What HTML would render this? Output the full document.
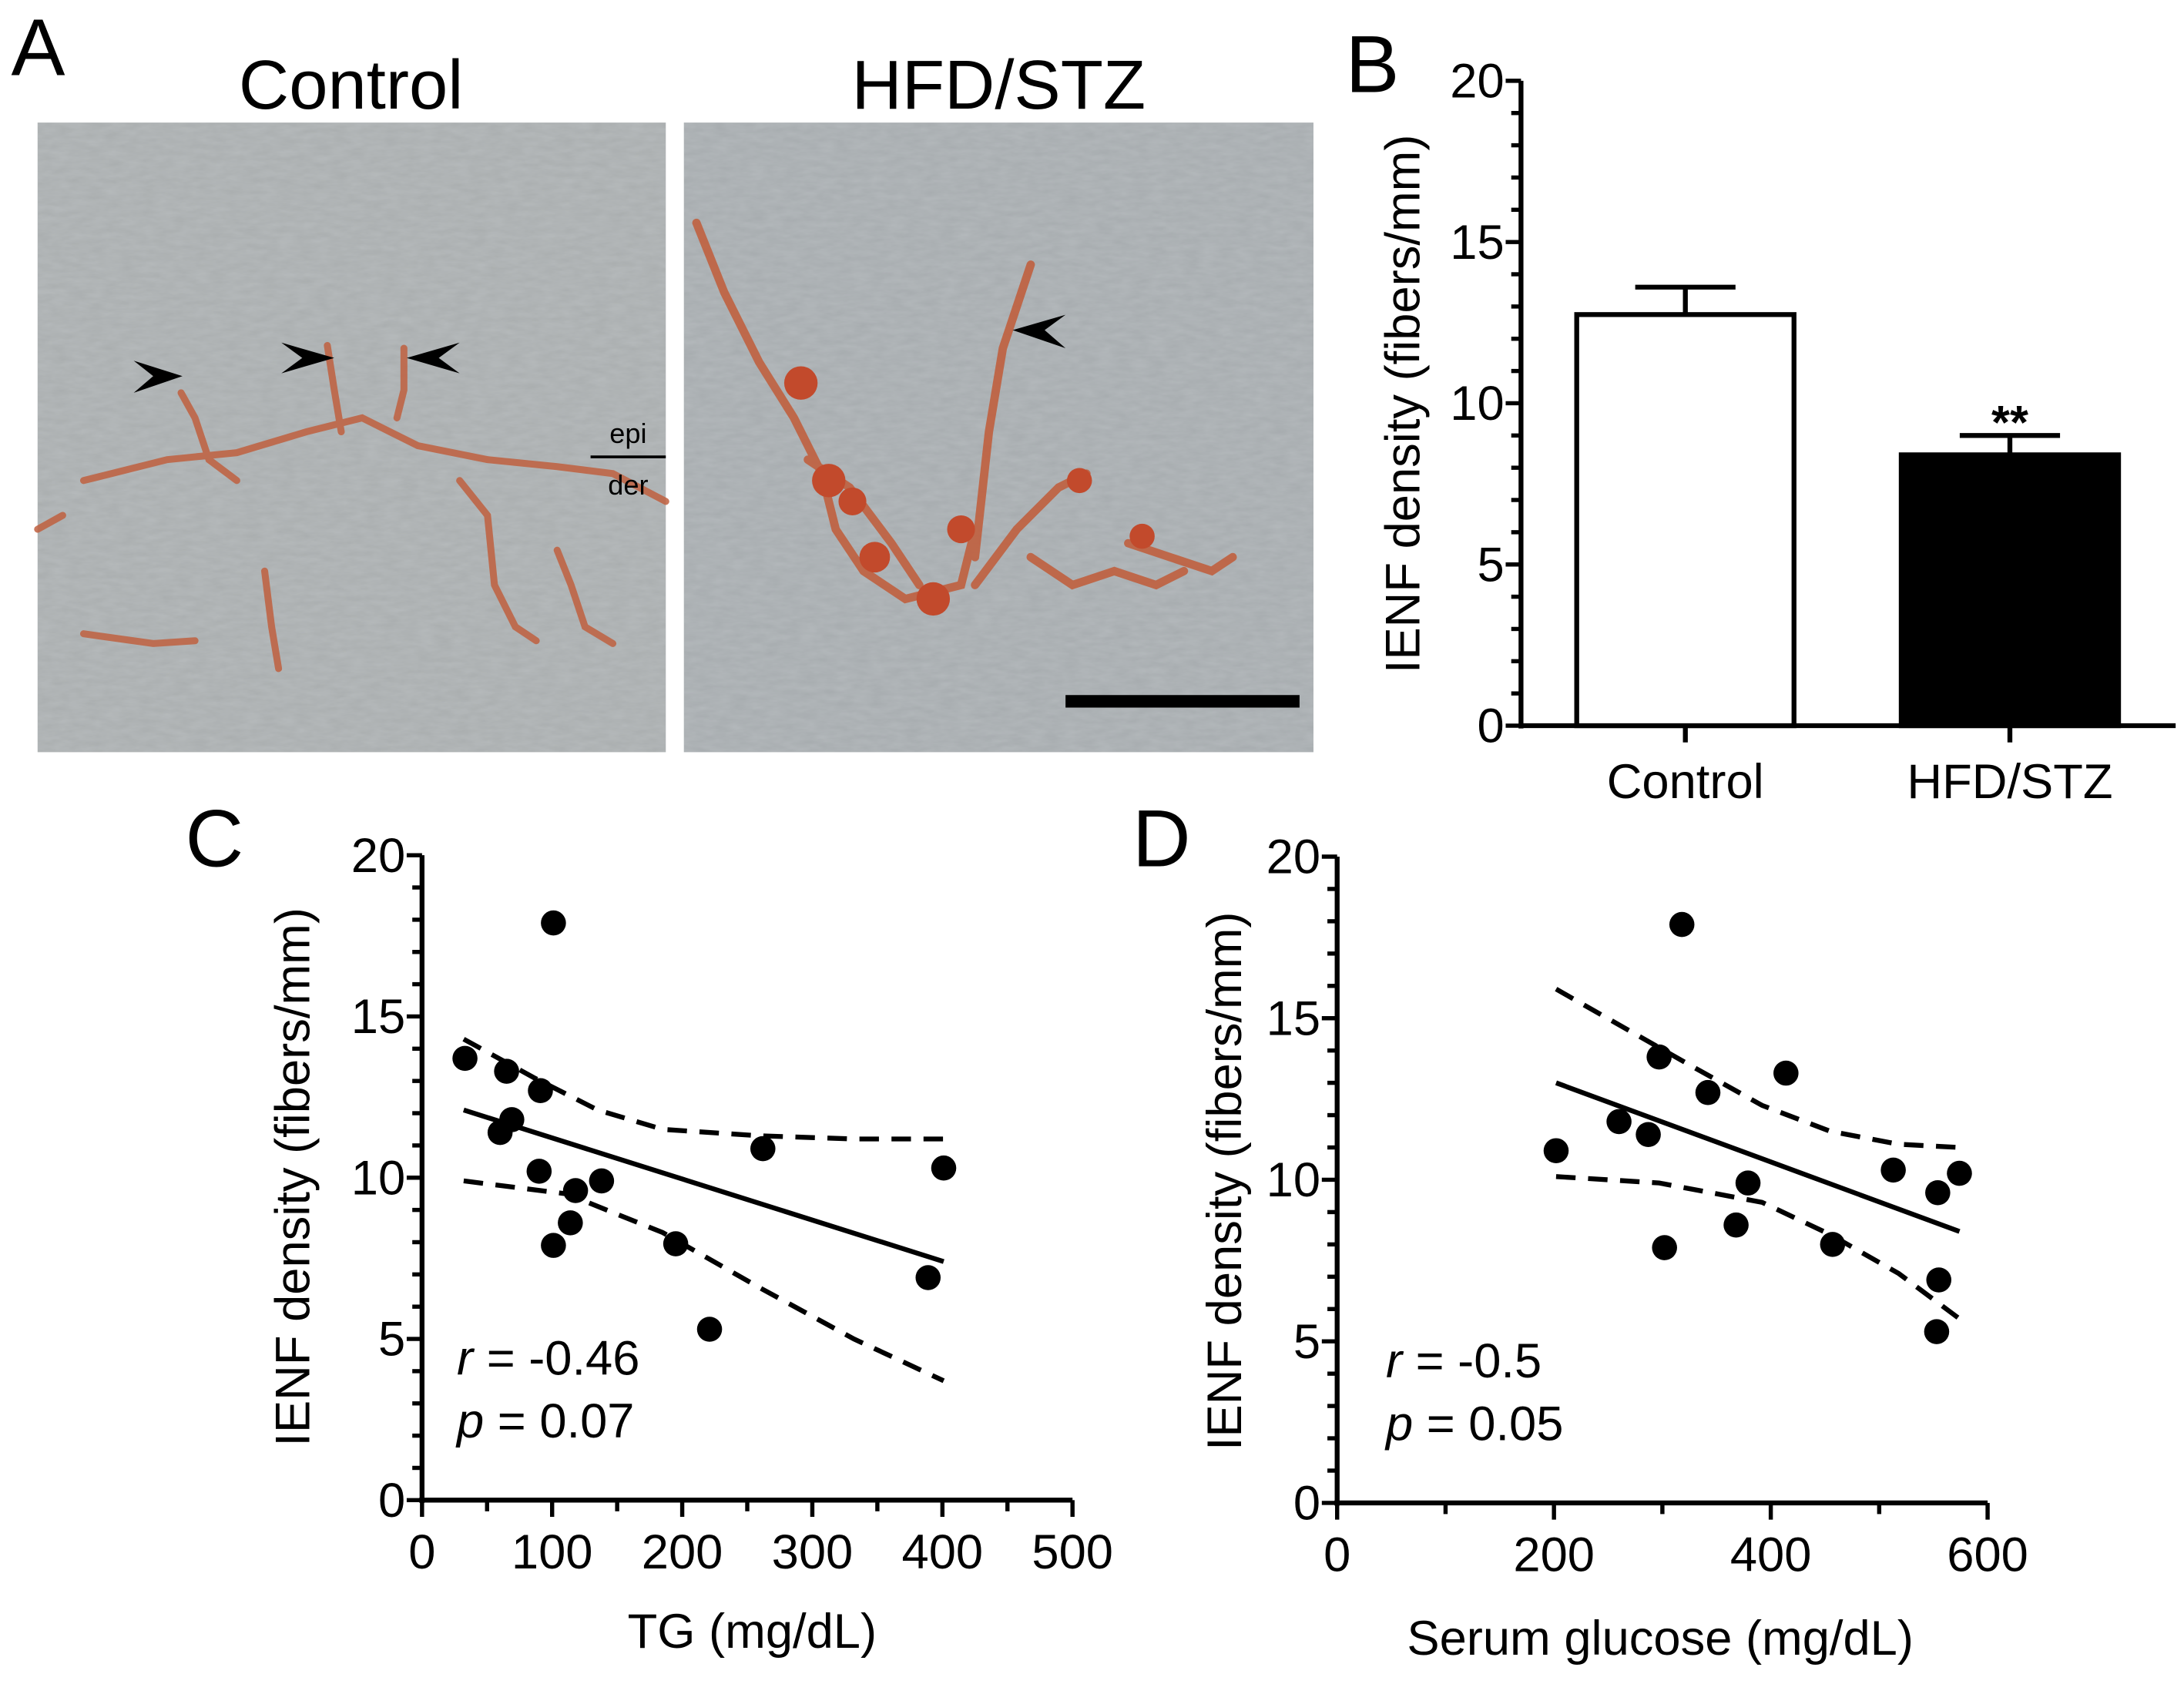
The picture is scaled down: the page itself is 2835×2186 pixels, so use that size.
<!DOCTYPE html>
<html><head><meta charset="utf-8"><style>
html,body{margin:0;padding:0;background:#fff;}
svg{display:block;}
text{font-family:"Liberation Sans",Arial,sans-serif;fill:#000;}
</style></head><body>
<svg id="fig" xmlns="http://www.w3.org/2000/svg" width="2835" height="2186" viewBox="0 0 1568 1209" preserveAspectRatio="none">
<defs>
<filter id="noise" x="0" y="0" width="100%" height="100%">
<feTurbulence type="fractalNoise" baseFrequency="0.08 0.25" numOctaves="3" seed="4"/>
<feColorMatrix type="matrix" values="0 0 0 0 0.62  0 0 0 0 0.65  0 0 0 0 0.67  0 0 0 0.35 0"/>
</filter>
</defs>
<g>
<text x="8" y="54" font-size="58">A</text>
<text x="252" y="78" font-size="50" text-anchor="middle">Control</text>
<text x="717" y="78" font-size="50" text-anchor="middle">HFD/STZ</text>
<g>
<rect x="27" y="88" width="451" height="452" fill="#a9adae"/>
<rect x="27" y="88" width="451" height="452" filter="url(#noise)"/>
<g fill="none" stroke="#c0603f" stroke-width="5" stroke-linecap="round" opacity="0.85">
<path d="M60,345 L120,330 L170,325 L220,310 L260,300 L300,320 L350,330 L400,335 L440,340 L478,360"/>
<path d="M130,282 L140,300 L150,330 L170,345"/>
<path d="M235,248 L240,280 L245,310"/>
<path d="M290,250 L290,280 L285,300"/>
<path d="M330,345 L350,370 L355,420 L370,450 L385,460"/>
<path d="M400,395 L410,420 L420,450 L440,462"/>
<path d="M190,410 L195,450 L200,480"/>
<path d="M60,455 L110,462 L140,460"/>
<path d="M27,380 L45,370"/>
</g>
<polygon points="131,270 96,259 110,270 96,282" fill="#000"/>
<polygon points="240,257 202,246 217,257 202,268" fill="#000"/>
<polygon points="292,257 330,246 315,257 330,268" fill="#000"/>
<line x1="424" y1="328" x2="478" y2="328" stroke="#000" stroke-width="2"/>
<text x="451" y="318" font-size="20" text-anchor="middle">epi</text>
<text x="451" y="355" font-size="20" text-anchor="middle">der</text>
</g>
<g>
<rect x="491" y="88" width="452" height="452" fill="#a6abae"/>
<rect x="491" y="88" width="452" height="452" filter="url(#noise)"/>
<g fill="none" stroke="#c0603f" stroke-width="6" stroke-linecap="round" opacity="0.9">
<path d="M500,160 L520,210 L545,260 L570,300 L590,340 L600,380 L620,410 L650,430 L690,420 L700,380"/>
<path d="M580,330 L610,350 L640,390 L660,420"/>
<path d="M700,400 L710,310 L720,250 L740,190"/>
<path d="M700,420 L730,380 L760,350 L780,340"/>
<path d="M740,400 L770,420 L800,410 L830,420 L850,410"/>
<path d="M810,390 L840,400 L870,410 L885,400"/>
</g>
<g fill="#c24a2c">
<circle cx="575" cy="275" r="12"/><circle cx="595" cy="345" r="12"/><circle cx="612" cy="360" r="10"/>
<circle cx="628" cy="400" r="11"/><circle cx="690" cy="380" r="10"/><circle cx="670" cy="430" r="12"/>
<circle cx="775" cy="345" r="9"/><circle cx="820" cy="385" r="9"/>
</g>
<polygon points="727,237 765,226 750,237 765,250" fill="#000"/>
<rect x="765" y="499" width="168" height="9" fill="#000"/>
</g>
</g>

<g id="panelB">
<text x="966" y="66" font-size="58">B</text>
</g>
<g id="panelC">
<text x="133" y="622" font-size="58">C</text>
</g>
<g id="panelD">
<text x="813" y="622" font-size="58">D</text>
</g>
</svg>
<script>
// ---- Panel B data ----
const barCategories = ["Control", "HFD/STZ"];
const barMeans = [12.75, 8.4];
const barSEM = [0.85, 0.6];
const barYTicks = [0, 5, 10, 15, 20];

// ---- Panel C data ----
const tgX = [33, 65, 91, 60, 69, 90, 101, 118, 138, 114, 101, 195, 221, 262, 401, 389];
const tgY = [13.7, 13.3, 12.7, 11.4, 11.8, 10.2, 17.9, 9.6, 9.9, 8.6, 7.9, 7.95, 5.3, 10.9, 10.3, 6.9];
const tgFitX = [32, 401];
const tgFitY = [12.1, 7.4];
const tgBandX = [32, 86, 135, 185, 259, 332, 401];
const tgUpper = [14.3, 13.1, 12.1, 11.5, 11.3, 11.2, 11.2];
const tgLowerX = [32, 111, 185, 259, 332, 401];
const tgLower = [9.9, 9.5, 8.3, 6.6, 5.0, 3.7];
const tgXTicks = [0, 100, 200, 300, 400, 500];
const tgYTicks = [0, 5, 10, 15, 20];

// ---- Panel D data ----
const glX = [202, 260, 287, 297, 302, 318, 342, 368, 379, 414, 457, 513, 554, 555, 553, 574];
const glY = [10.9, 11.8, 11.4, 13.8, 7.9, 17.9, 12.7, 8.6, 9.9, 13.3, 8.0, 10.3, 9.6, 6.9, 5.3, 10.2];
const glFitX = [202, 574];
const glFitY = [13.0, 8.4];
const glUpperX = [202, 265, 328, 392, 455, 518, 574];
const glUpper = [15.9, 14.7, 13.5, 12.3, 11.5, 11.1, 11.0];
const glLowerX = [202, 297, 392, 455, 518, 574];
const glLower = [10.1, 9.9, 9.3, 8.3, 7.1, 5.7];
const glXTicks = [0, 200, 400, 600];
const glYTicks = [0, 5, 10, 15, 20];

const NS = "http://www.w3.org/2000/svg";
function mk(parent, tag, attrs, txt) {
  const e = document.createElementNS(NS, tag);
  for (const k in attrs) e.setAttribute(k, attrs[k]);
  if (txt !== undefined) e.textContent = txt;
  parent.appendChild(e);
  return e;
}
function linScale(d0, d1, r0, r1) { return v => r0 + (v - d0) * (r1 - r0) / (d1 - d0); }

function drawYAxis(g, x0, y, ticks, minorStep, yTop, yBot, labelX, labelY, labelText) {
  const ax = mk(g, "line", {x1: x0, y1: y(ticks[0]) + 2, x2: x0, y2: y(ticks[ticks.length - 1]), stroke: "#000", "stroke-width": 3.5});
  
  
  const lo = ticks[0], hi = ticks[ticks.length - 1];
  for (let v = lo; v <= hi + 1e-9; v += minorStep) {
    const major = ticks.some(t => Math.abs(t - v) < 1e-9);
    const t = mk(g, "line", {x1: x0 - (major ? 11 : 7), y1: y(v), x2: x0, y2: y(v), stroke: "#000", "stroke-width": 3});
    
    
  }
  ticks.forEach(v => {
    const tl = mk(g, "text", {x: x0 - 12, y: y(v) + 12, "font-size": 35, "text-anchor": "end"}, String(v));
    
    
  });
  const lab = mk(g, "text", {x: 0, y: 0, "font-size": 35, "text-anchor": "middle", transform: `translate(${labelX},${labelY}) rotate(-90)`}, labelText);
  
  
}

// ---- Panel B ----
(function () {
  const g = document.getElementById("panelB");
  const axX = 1092, right = 1562;
  const y = linScale(0, 20, 521, 58);
  const centers = [1210, 1443];
  const halfW = 78;
  drawYAxis(g, axX, y, barYTicks, 1, 58, 521, 1019, 290, "IENF density (fibers/mm)");
  const xa = mk(g, "line", {x1: axX, y1: y(0), x2: right, y2: y(0), stroke: "#000", "stroke-width": 3.5});
  
  
  barCategories.forEach((c, i) => {
    const cx = centers[i];
    const eb = mk(g, "line", {x1: cx, y1: y(barMeans[i]), x2: cx, y2: y(barMeans[i] + barSEM[i]), stroke: "#000", "stroke-width": 3.5});
    
    
    const cap = mk(g, "line", {x1: cx - 36, y1: y(barMeans[i] + barSEM[i]), x2: cx + 36, y2: y(barMeans[i] + barSEM[i]), stroke: "#000", "stroke-width": 3.5});
    
    
    const r = mk(g, "rect", {x: cx - halfW, y: y(barMeans[i]), width: halfW * 2, height: y(0) - y(barMeans[i]), fill: i ? "#000" : "#fff", stroke: "#000", "stroke-width": 3.5});
    
    
    const tk = mk(g, "line", {x1: cx, y1: y(0), x2: cx, y2: y(0) + 12, stroke: "#000", "stroke-width": 3.5});
    
    
    const tl = mk(g, "text", {x: cx, y: 573, "font-size": 35, "text-anchor": "middle"}, c);
    
    
  });
  const sig = mk(g, "text", {x: centers[1], y: y(barMeans[1] + barSEM[1]) + 2, "font-size": 34, "font-weight": "bold", "text-anchor": "middle"}, "**");
  
  
})();

function scatterPanel(id, cfg) {
  const g = document.getElementById(id);
  const x = linScale(0, cfg.xTicks[cfg.xTicks.length - 1], cfg.x0, cfg.x1);
  const y = linScale(0, 20, cfg.y0, cfg.y20);
  drawYAxis(g, cfg.x0, y, cfg.yTicks, 1, cfg.y20, cfg.y0, cfg.ylabX, cfg.ylabY, "IENF density (fibers/mm)");
  const xa = mk(g, "line", {x1: cfg.x0 - 2, y1: cfg.y0, x2: cfg.x1, y2: cfg.y0, stroke: "#000", "stroke-width": 3.5});
  
  
  const xmax = cfg.xTicks[cfg.xTicks.length - 1];
  for (let v = 0; v <= xmax + 1e-9; v += cfg.xMinor) {
    const major = cfg.xTicks.includes(v);
    const t = mk(g, "line", {x1: x(v), y1: cfg.y0, x2: x(v), y2: cfg.y0 + (major ? 12 : 8), stroke: "#000", "stroke-width": 3});
    
    
  }
  cfg.xTicks.forEach(v => {
    const tl = mk(g, "text", {x: x(v), y: cfg.y0 + 49, "font-size": 35, "text-anchor": "middle"}, String(v));
    
    
  });
  const xt = mk(g, "text", {x: cfg.xlabX, y: cfg.xlabY, "font-size": 35, "text-anchor": "middle"}, cfg.xlab);
  
  
  const pathOf = (xs, ys) => xs.map((v, i) => (i ? "L" : "M") + x(v).toFixed(1) + "," + y(ys[i]).toFixed(1)).join(" ");
  const up = mk(g, "path", {d: pathOf(cfg.upX, cfg.up), fill: "none", stroke: "#000", "stroke-width": 3.5, "stroke-dasharray": "14 9"});
  
  
  const lo = mk(g, "path", {d: pathOf(cfg.loX, cfg.lo), fill: "none", stroke: "#000", "stroke-width": 3.5, "stroke-dasharray": "14 9"});
  
  
  const fit = mk(g, "path", {d: pathOf(cfg.fitX, cfg.fitY), fill: "none", stroke: "#000", "stroke-width": 3.5});
  
  
  cfg.px.forEach((v, i) => {
    const c = mk(g, "circle", {cx: x(v), cy: y(cfg.py[i]), r: 9, fill: "#000"});
    
    
  });
  const r = mk(g, "text", {x: cfg.statX, y: cfg.y0 - 90, "font-size": 35});
  
  
  mk(r, "tspan", {"font-style": "italic"}, "r");
  mk(r, "tspan", {}, " = " + cfg.r);
  const p = mk(g, "text", {x: cfg.statX, y: cfg.y0 - 45, "font-size": 35});
  
  
  mk(p, "tspan", {"font-style": "italic"}, "p");
  mk(p, "tspan", {}, " = " + cfg.p);
}

scatterPanel("panelC", {x0: 303, x1: 770, y0: 1077, y20: 614, xTicks: tgXTicks, yTicks: tgYTicks, xMinor: 50,
  px: tgX, py: tgY, fitX: tgFitX, fitY: tgFitY, upX: tgBandX, up: tgUpper, loX: tgLowerX, lo: tgLower,
  xlab: "TG (mg/dL)", xlabX: 540, xlabY: 1183, ylabX: 222, ylabY: 845, statX: 328, r: "-0.46", p: "0.07"});
scatterPanel("panelD", {x0: 960, x1: 1427, y0: 1079, y20: 615, xTicks: glXTicks, yTicks: glYTicks, xMinor: 100,
  px: glX, py: glY, fitX: glFitX, fitY: glFitY, upX: glUpperX, up: glUpper, loX: glLowerX, lo: glLower,
  xlab: "Serum glucose (mg/dL)", xlabX: 1192, xlabY: 1188, ylabX: 891, ylabY: 848, statX: 995, r: "-0.5", p: "0.05"});
</script>
</body></html>
